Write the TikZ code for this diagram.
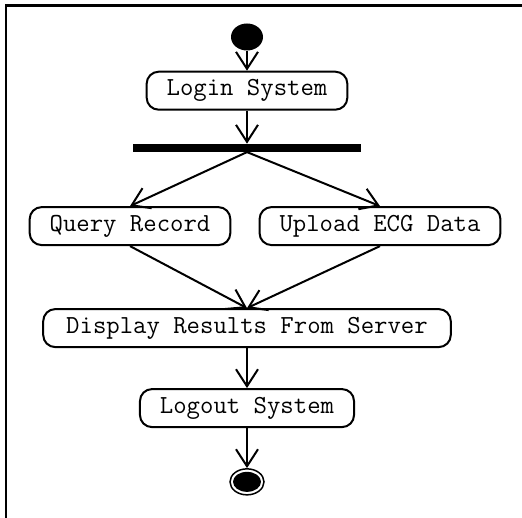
\documentclass[tikz,border=0pt]{standalone}
\usepackage{fontspec}
\usepackage{tikz}
\usetikzlibrary{arrows.meta}
\usetikzlibrary{positioning}
\usetikzlibrary{shapes.geometric}

\tikzset{
	activity/.style={draw, line width=2pt, rounded corners=12pt, minimum height=38pt, inner xsep=20pt, inner ysep=0pt, font=\ttfamily\fontsize{26}{30}\selectfont},
	initial/.style={ellipse, fill=black, minimum width=32pt, minimum height=27pt, inner sep=0pt},
	final/.style={ellipse, draw, line width=1.5pt, minimum width=34pt, minimum height=26pt, inner sep=0pt},
	finaldot/.style={ellipse, fill=black, minimum width=28pt, minimum height=20pt, inner sep=0pt},
	forkbar/.style={rectangle, fill=black, minimum width=228pt, minimum height=8pt, inner sep=0pt},
	flow/.style={-{Straight Barb[length=17pt,width=22pt]}, line width=2pt}
}

\begin{document}
\begin{tikzpicture}[x=1pt, y=1pt]
	\useasboundingbox (0,0) rectangle (522,-518);
	\draw[line width=2.5pt] (6,-518) -- (6,-5.5) -- (522,-5.5);

	\node[initial](start) at (247,-37){};
	\node[activity, below=20pt of start](login){Login System};
	\node[forkbar, below=33pt of login](bar){};

	\draw[flow] (start) -- (login);
	\draw[flow] (login) -- (bar);

	\node[activity, below=54pt of bar, xshift=-117pt](query){Query Record};
	\node[activity, below=54pt of bar, xshift=133pt](upload){Upload ECG Data};

	\draw[flow] (bar.south) -- (query.north);
	\draw[flow] (bar.south) -- (upload.north);

	\node[activity, below=62pt of query, xshift=117pt, inner xsep=23pt](display){Display Results From Server};

	\draw[flow] (query.south) -- (display.north);
	\draw[flow] (upload.south) -- (display.north);

	\node[activity, below=40pt of display](logout){Logout System};
	\node[final, below=40pt of logout](end){};
	\node[finaldot] at (end.center){};

	\draw[flow] (display) -- (logout);
	\draw[flow] (logout) -- (end);
\end{tikzpicture}
\end{document}
